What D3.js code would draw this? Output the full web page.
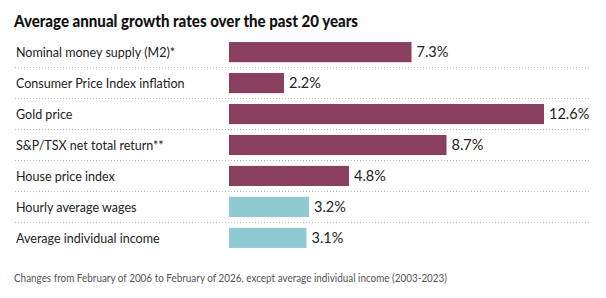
<!DOCTYPE html>
<html>
<head>
<meta charset="utf-8">
<script src="https://cdn.jsdelivr.net/npm/d3@7"></script>
<style>
  body { margin: 0; background: #fff; }
  text { font-family: Lato, "Open Sans", sans-serif; }
</style>
</head>
<body>
<div id="chart"></div>
<script>
const width = 606;
const height = 298;

const categories = [
  "Nominal money supply (M2)*",
  "Consumer Price Index inflation",
  "Gold price",
  "S&P/TSX net total return**",
  "House price index",
  "Hourly average wages",
  "Average individual income"
];
const values = [7.3, 2.2, 12.6, 8.7, 4.8, 3.2, 3.1];
const groups = ["asset", "asset", "asset", "asset", "asset", "income", "income"];

const colors = { asset: "#8a3f5e", income: "#8fc9d2" };

const svg = d3.select("#chart").append("svg")
  .attr("width", width)
  .attr("height", height);

// title (condensed to match the narrow headline face)
svg.append("text")
  .attr("x", 14)
  .attr("y", 27)
  .attr("textLength", 344)
  .attr("lengthAdjust", "spacingAndGlyphs")
  .style("font-size", "17px")
  .style("font-weight", "900")
  .style("fill", "#111")
  .text("Average annual growth rates over the past 20 years");

const x = d3.scaleLinear().domain([0, 12.6]).range([229, 544]);
const y = d3.scaleBand().domain(categories).range([36.5, 253.5]).paddingInner(0.35).paddingOuter(0.18);

const rows = svg.append("g");

// dotted separators between rows
rows.selectAll("line.sep")
  .data(categories.slice(0, -1))
  .join("line")
  .attr("class", "sep")
  .attr("x1", 15)
  .attr("x2", 591)
  .attr("y1", d => y(d) + y.bandwidth() + y.step() * y.paddingInner() / 2)
  .attr("y2", d => y(d) + y.bandwidth() + y.step() * y.paddingInner() / 2)
  .attr("stroke", "#bbb")
  .attr("stroke-width", 1)
  .attr("stroke-dasharray", "1,2");

rows.selectAll("text.label")
  .data(categories)
  .join("text")
  .attr("class", "label")
  .attr("x", 16)
  .attr("y", d => y(d) + y.bandwidth() / 2)
  .attr("dy", "0.36em")
  .style("font-size", "14px")
  .style("fill", "#222")
  .text(d => d)
  .each(function() {
    const w = this.getComputedTextLength();
    d3.select(this)
      .attr("textLength", w * 0.895)
      .attr("lengthAdjust", "spacingAndGlyphs");
  });

rows.selectAll("rect.bar")
  .data(values)
  .join("rect")
  .attr("class", "bar")
  .attr("x", x(0))
  .attr("y", (d, i) => y(categories[i]))
  .attr("width", d => x(d) - x(0))
  .attr("height", y.bandwidth())
  .attr("fill", (d, i) => colors[groups[i]]);

rows.selectAll("text.value")
  .data(values)
  .join("text")
  .attr("class", "value")
  .attr("x", d => x(d) + 5)
  .attr("y", (d, i) => y(categories[i]) + y.bandwidth() / 2)
  .attr("dy", "0.36em")
  .style("font-size", "14.5px")
  .style("fill", "#222")
  .text(d => d.toFixed(1) + "%");

svg.append("text")
  .attr("x", 14)
  .attr("y", 282)
  .attr("textLength", 433)
  .attr("lengthAdjust", "spacingAndGlyphs")
  .style("font-size", "11px")
  .style("fill", "#555")
  .text("Changes from February of 2006 to February of 2026, except average individual income (2003-2023)");
</script>
</body>
</html>
